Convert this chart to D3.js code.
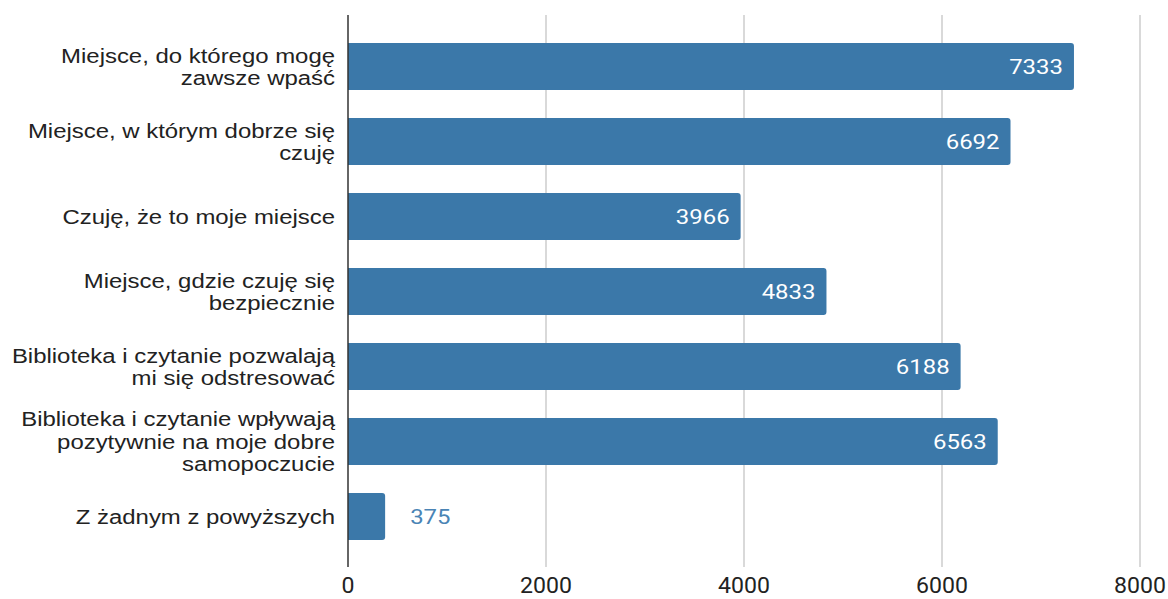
<!DOCTYPE html>
<html><head><meta charset="utf-8">
<script src="https://cdn.jsdelivr.net/npm/d3@7"></script>
<style>body{margin:0;background:#fff}</style>
</head><body>
<svg id="c" width="1168" height="599"></svg>
<script>
const categories = [
  "Miejsce, do którego mogę zawsze wpaść",
  "Miejsce, w którym dobrze się czuję",
  "Czuję, że to moje miejsce",
  "Miejsce, gdzie czuję się bezpiecznie",
  "Biblioteka i czytanie pozwalają mi się odstresować",
  "Biblioteka i czytanie wpływają pozytywnie na moje dobre samopoczucie",
  "Z żadnym z powyższych"
];
const values = [7333, 6692, 3966, 4833, 6188, 6563, 375];
const ticks = [0, 2000, 4000, 6000, 8000];

const svg = d3.select("#c");
const x = d3.scaleLinear().domain([0, 8000]).range([348, 1140]);
const y = d3.scaleBand().domain(categories).range([29, 554]).paddingInner(0.373).paddingOuter(0.1865);
const barColor = "#3b78a9";
const SX = 1.14;

// grid
svg.append("g").selectAll("line").data(ticks.slice(1)).join("line")
  .attr("x1", d => x(d)).attr("x2", d => x(d)).attr("y1", 15).attr("y2", 567)
  .attr("stroke", "#cccccc").attr("stroke-width", 1.5);

function barPath(x0, x1, y0, h, r) {
  r = Math.min(r, (x1 - x0));
  return `M${x0},${y0}H${x1 - r}Q${x1},${y0} ${x1},${y0 + r}V${y0 + h - r}Q${x1},${y0 + h} ${x1 - r},${y0 + h}H${x0}Z`;
}
const data = categories.map((c, i) => ({c, v: values[i]}));
svg.append("g").selectAll("path").data(data).join("path")
  .attr("d", d => barPath(x(0), x(d.v), y(d.c), y.bandwidth(), 3))
  .attr("fill", barColor);

// value labels
const inside = d => x(d.v) > x(0) + 80;
svg.append("g").selectAll("text").data(data).join("text")
  .attr("transform", d => `translate(${inside(d) ? x(d.v) - 11 : x(d.v) + 25},${y(d.c) + y.bandwidth() / 2}) scale(${SX},1)`)
  .attr("dy", "0.36em")
  .attr("text-anchor", d => inside(d) ? "end" : "start")
  .attr("fill", d => inside(d) ? "#ffffff" : "#4a84b5")
  .style("font-family", "Roboto").style("font-size", "21px")
  .text(d => d.v);

// axis line
svg.append("line").attr("x1", x(0)).attr("x2", x(0)).attr("y1", 15).attr("y2", 567)
  .attr("stroke", "#333333").attr("stroke-width", 1.5);

// tick labels
svg.append("g").selectAll("text").data(ticks).join("text")
  .attr("transform", d => `translate(${x(d)},593) scale(1.05,1)`)
  .attr("text-anchor", "middle")
  .style("font-family", "Roboto").style("font-size", "22px").attr("fill", "#222")
  .text(d => d);

// category labels with wrapping
const lh = 22.5;
const maxW = 330;
const lab = svg.append("g").style("font-family", "'Liberation Sans', Arial").style("font-size", "21px").attr("fill", "#222");
data.forEach(d => {
  const words = d.c.split(" ");
  const lines = [];
  let cur = [];
  const probe = lab.append("text");
  words.forEach(w => {
    const test = cur.concat([w]).join(" ");
    probe.text(test);
    if (probe.node().getComputedTextLength() * SX > maxW && cur.length) { lines.push(cur.join(" ")); cur = [w]; }
    else cur.push(w);
  });
  lines.push(cur.join(" "));
  probe.remove();
  const cy = y(d.c) + y.bandwidth() / 2;
  const startY = cy - (lines.length - 1) * lh / 2;
  const t = lab.append("text").attr("text-anchor", "end")
    .attr("transform", `translate(335,${startY}) scale(${SX},1)`);
  lines.forEach((l, i) => t.append("tspan").attr("x", 0).attr("y", i * lh).attr("dy", "0.35em").text(l));
});
</script>
</body></html>
